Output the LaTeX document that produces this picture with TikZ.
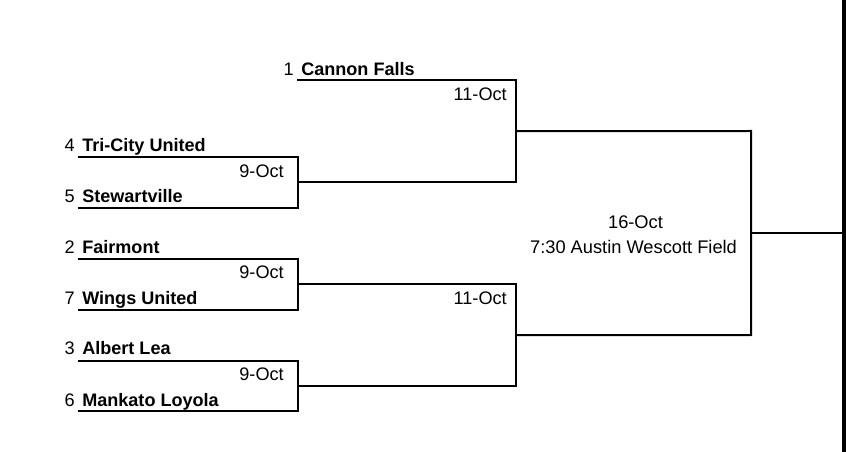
\documentclass[tikz,border=0pt]{standalone}
\usepackage{fontspec}
\setmainfont{Liberation Sans}
\usetikzlibrary{positioning,calc}

\begin{document}
\begin{tikzpicture}[
    x=0.75pt, y=-0.75pt,
    team/.style={anchor=base west, inner sep=0pt, font=\fontsize{13.55}{15}\selectfont\bfseries},
    seed/.style={anchor=base east, inner sep=0pt, font=\fontsize{13.6}{15}\selectfont},
    gamedate/.style={anchor=base east, inner sep=0pt, font=\fontsize{13.6}{15}\selectfont},
    venue/.style={anchor=base, inner sep=0pt, font=\fontsize{13.7}{15}\selectfont},
    bracket/.style={draw, line width=1.5pt, line cap=rect}
]
    \useasboundingbox (0,0) rectangle (846,452);

    % First round
    \foreach \nm/\ya/\yb/\ua/\ub/\ud/\sa/\sb/\ta/\tb in {p/157/208/152/202.5/177.5/4/5/Tri-City United/Stewartville,
                                                         q/259/310/253.5/304.5/279/2/7/Fairmont/Wings United,
                                                         r/361/411/354.5/406/380.5/3/6/Albert Lea/Mankato Loyola} {
        \coordinate (\nm a) at (79,\ya);
        \coordinate (\nm b) at (79,\yb);
        \coordinate (\nm c) at (298,\ya);
        \coordinate (\nm d) at (298,\yb);
        \coordinate (\nm m) at ($(\nm c)!0.5!(\nm d)$);
        \draw[bracket] (\nm a) -- (\nm c) -- (\nm d) -- (\nm b);
        \node[team] (\nm t1) at (82,\ua) {\ta};
        \node[team] (\nm t2) at (82,\ub) {\tb};
        \node[seed] (\nm s1) at (75,\ua) {\sa};
        \node[seed] (\nm s2) at (75,\ub) {\sb};
        \node[gamedate] (\nm d1) at (284,\ud) {9-Oct};
    }

    % Top seed
    \coordinate (bye) at (298,80);
    \coordinate (semiA) at (516,80);
    \coordinate (semiB) at (516,182.5);
    \node[team] (cannon) at (301,75.5) {Cannon Falls};
    \node[seed] (cannonseed) at (294,75.5) {1};
    \node[gamedate] (dateA) at (507,100.5) {11-Oct};
    \draw[bracket] (bye) -- (semiA) -- (semiB) -- (pm);

    % Second semi
    \coordinate (semiC) at (516,284.5);
    \coordinate (semiD) at (516,386);
    \node[gamedate] (dateB) at (507,304.5) {11-Oct};
    \draw[bracket] (qm) -- (semiC) -- (semiD) -- (rm);

    % Final
    \coordinate (finA) at ($(semiA)!0.5!(semiB)$);
    \coordinate (finB) at ($(semiC)!0.5!(semiD)$);
    \coordinate (finC) at (751,131);
    \coordinate (finD) at (751,335);
    \coordinate (champ) at (843,233);
    \draw[bracket] (finA) -- (finC) -- (finD) -- (finB);
    \draw[bracket] ($(finC)!0.5!(finD)$) -- (champ);
    \node[venue] (dateC) at (635.5,228.5) {16-Oct};
    \node[venue] (field) at (633.5,253.5) {7:30 Austin Wescott Field};

    % Right edge
    \fill (842,0) rectangle (846,452);
\end{tikzpicture}
\end{document}
